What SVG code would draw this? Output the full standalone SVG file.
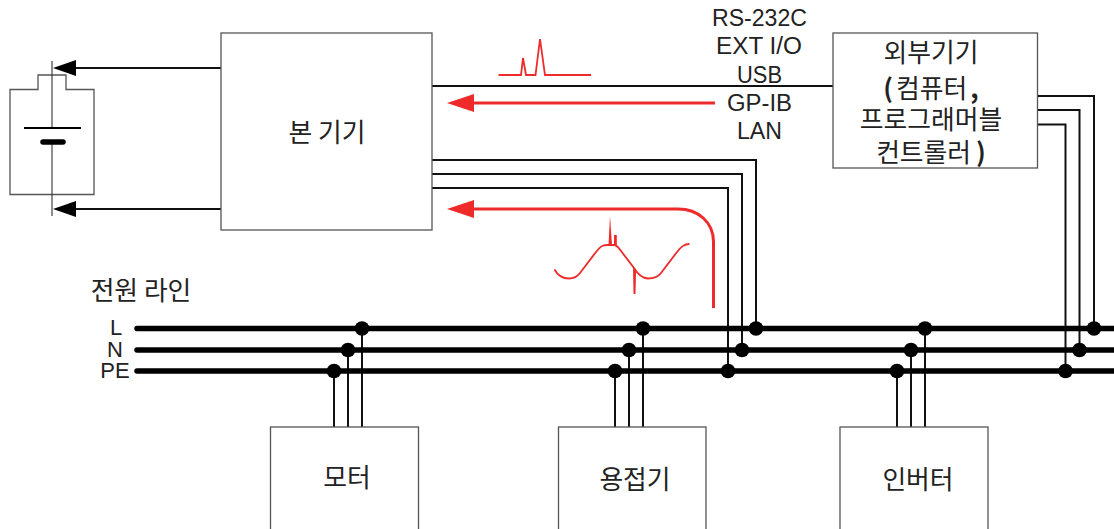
<svg xmlns="http://www.w3.org/2000/svg" width="1114" height="529" viewBox="0 0 1114 529">
<style>
text{font-family:"Noto Sans CJK KR","Liberation Sans",sans-serif;font-size:25.800px;fill:#222;text-anchor:middle}
.lat{font-family:"Liberation Sans","Noto Sans CJK KR",sans-serif;font-size:23px}
.b{font-weight:700}
.box{fill:#fff;stroke:#555;stroke-width:1.300}
.wire{fill:none;stroke:#111;stroke-width:2}
.bus{fill:none;stroke:#000;stroke-width:5.500;stroke-linecap:round}
.dot{fill:#000}
.red{fill:none;stroke:#ee2a2a;stroke-width:3}
.thin{fill:none;stroke:#ee2a2a;stroke-width:1.800}
.rh{fill:#ee2a2a}
</style>
<g id="connectors">
<path class="wire" d="M221 68H70M221 209H70M432 86H833"/>
<polygon points="53,68 76,60 76,76" fill="#000"/>
<polygon points="53,209 76,201 76,217" fill="#000"/>
<path class="wire" d="M432 160H756V328M432 174H742V350M432 188H728V371"/>
<path class="wire" d="M1038 96H1094V328M1038 110H1079.500V350M1038 124.500H1065.500V371"/>
<path class="wire" d="M362 328V427M348 350V427M334 371V427M643 328V427M629 350V427M615 371V427M925 328V427M911 350V427M897 371V427"/>
<path class="bus" d="M137 328.500H1114M137 350H1114M137 371H1114"/>
<g class="dot">
<circle cx="362" cy="328.500" r="7.300"/><circle cx="348" cy="350" r="7.300"/><circle cx="334" cy="371" r="7.300"/>
<circle cx="643" cy="328.500" r="7.300"/><circle cx="629" cy="350" r="7.300"/><circle cx="615" cy="371" r="7.300"/>
<circle cx="756" cy="328.500" r="7.300"/><circle cx="742" cy="350" r="7.300"/><circle cx="728" cy="371" r="7.300"/>
<circle cx="925" cy="328.500" r="7.300"/><circle cx="911" cy="350" r="7.300"/><circle cx="897" cy="371" r="7.300"/>
<circle cx="1094" cy="328.500" r="7.300"/><circle cx="1079.500" cy="350" r="7.300"/><circle cx="1065.500" cy="371" r="7.300"/>
</g>
<path class="red" d="M715 103H470"/>
<polygon class="rh" points="447,103 474,94 474,112"/>
<path class="red" d="M713.500 308V242C713.500 222 698 209 678 209H470"/>
<polygon class="rh" points="447,209 474,200 474,218"/>
<path class="thin" d="M498.500 75H521L523 58L526 75H535.500L540 39L545 75H591"/>
<path class="thin" d="M554.500 269.500C558 276 564 278.500 569 278.500C574 278.500 577 277 580 273L596 252C600 247 602 245 607 245H614C617 245 618 247 621 251L634 268C637 273 641 278 648 278.500C654 278.500 658 277 661 273L677 252C681 247 684 244 689.500 244"/>
<polygon class="rh" points="608.500,245 610,216 612,245"/>
<rect class="rh" x="614" y="235" width="2.800" height="10"/>
<polygon class="rh" points="633,267 636,272 635.500,294 633.500,294"/>
</g>
<g id="battery">
<path d="M10 89.500H38V75H66V89.500H94V194.500H10Z" fill="none" stroke="#555" stroke-width="1.300"/>
<path d="M52 61V128M52 142V216" fill="none" stroke="#333" stroke-width="1.100"/>
<path d="M24 128H81" fill="none" stroke="#000" stroke-width="2"/>
<path d="M43 142H63" fill="none" stroke="#000" stroke-width="5.500" stroke-linecap="round"/>
</g>
<g id="main"><rect class="box" x="221" y="33" width="211" height="197"/><text x="327" y="142">본 기기</text></g>
<g id="external"><rect class="box" x="833" y="33" width="204.500" height="135"/>
<text x="931" y="62">외부기기</text>
<text x="931" y="98"><tspan class="b">(</tspan><tspan dx="3">컴퓨터</tspan><tspan dx="3" class="b">,</tspan></text>
<text x="931" y="129">프로그래머블</text>
<text x="931" y="162">컨트롤러<tspan dx="5" class="b">)</tspan></text></g>
<g id="interfaces">
<text class="lat" x="759.500" y="26" textLength="95" lengthAdjust="spacingAndGlyphs">RS-232C</text>
<text class="lat" x="759" y="54" textLength="86" lengthAdjust="spacingAndGlyphs">EXT I/O</text>
<text class="lat" x="759.500" y="83" textLength="45" lengthAdjust="spacingAndGlyphs">USB</text>
<text class="lat" x="759.500" y="111" textLength="65" lengthAdjust="spacingAndGlyphs">GP-IB</text>
<text class="lat" x="759.500" y="139" textLength="45" lengthAdjust="spacingAndGlyphs">LAN</text></g>
<g id="powerline"><text x="141" y="300">전원 라인</text>
<text class="lat" x="116" y="335" style="font-size:22px">L</text><text class="lat" x="115" y="357" style="font-size:22px">N</text><text class="lat" x="115" y="378" style="font-size:22px">PE</text></g>
<g id="motor"><rect class="box" x="270.500" y="427" width="148" height="120"/><text x="347" y="487">모터</text></g>
<g id="welder"><rect class="box" x="558.500" y="427" width="147.500" height="120"/><text x="635" y="489">용접기</text></g>
<g id="inverter"><rect class="box" x="840" y="427" width="148" height="120"/><text x="918" y="489">인버터</text></g>
</svg>
